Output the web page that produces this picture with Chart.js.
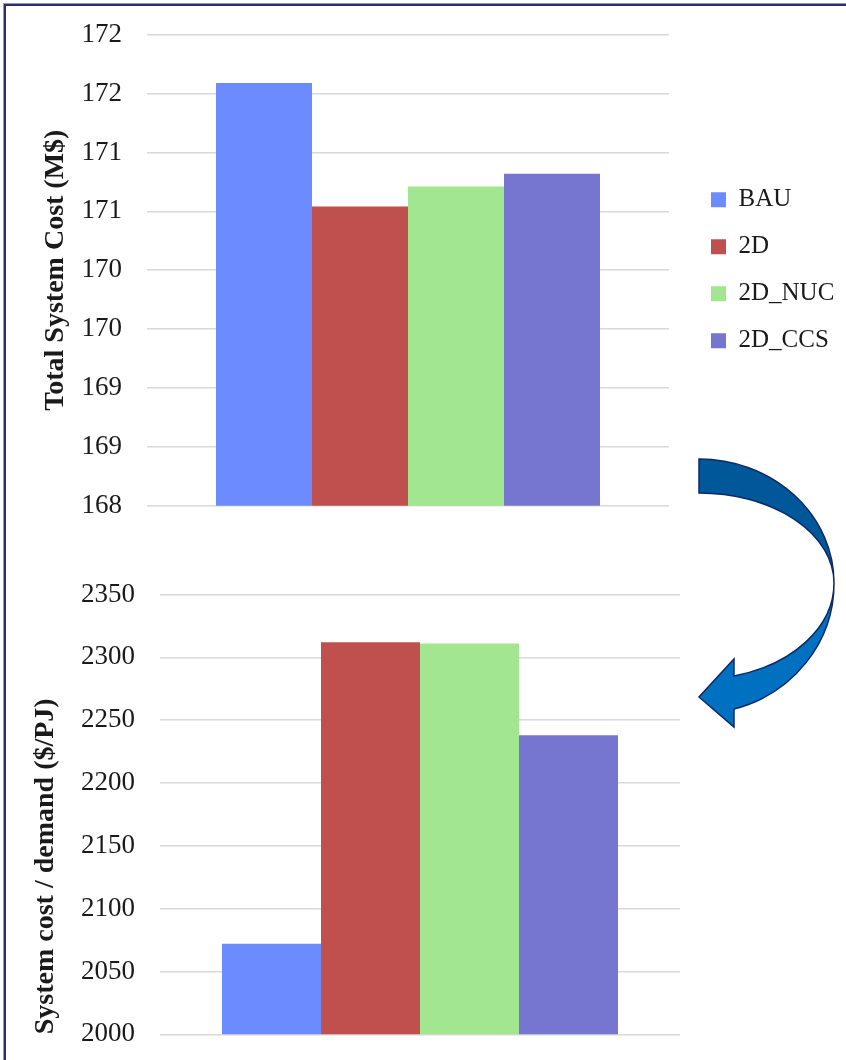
<!DOCTYPE html>
<html>
<head>
<meta charset="utf-8">
<title>System cost comparison</title>
<script src="https://cdn.jsdelivr.net/npm/chart.js@4.4.1/dist/chart.umd.min.js"></script>
<style>
  html, body { margin: 0; padding: 0; background: #fff; overflow: hidden; }
  #frame { position: relative; width: 846px; height: 1060px; overflow: hidden; }
  #border {
    position: absolute; left: 4px; top: 4px; width: 900px; height: 1100px;
    border-left: 2px solid #2d2d6b; border-top: 2px solid #2d2d6b;
    box-shadow: -1px -1px 0 #9494c4;
  }
  #costChart { position: absolute; left: 0; top: 0; }
  #demandChart { position: absolute; left: 0; top: 540px; }
  #arrow { position: absolute; left: 0; top: 0; pointer-events: none; }
</style>
</head>
<body>
<div id="frame">
  <div id="border"></div>
  <canvas id="costChart" width="846" height="540"></canvas>
  <canvas id="demandChart" width="846" height="520"></canvas>
  <svg id="arrow" width="846" height="1060" viewBox="0 0 846 1060">
    <!-- lower, lighter half of the curved arrow with its head -->
    <path d="M 834 583 A 135 130 0 0 1 734 709 L 734 727 L 699 697 L 734 659 L 734 676 A 135 96 0 0 0 834 583 Z"
          fill="#0070c0" stroke="#0d2a66" stroke-width="1.5" stroke-linejoin="miter"/>
    <!-- upper, darker half -->
    <path d="M 699 459 A 135 124 0 0 1 834 583 A 135 90 0 0 0 699 493 Z"
          fill="#00589a" stroke="#0d2a66" stroke-width="1.5"/>
  </svg>
</div>

<script>
const scenarios = ['BAU', '2D', '2D_NUC', '2D_CCS'];
const scenarioColors = ['#6b8bff', '#c0504d', '#a2e68f', '#7676d1'];
const totalCost = [171.59, 170.54, 170.71, 170.82];      // M$
const costPerDemand = [2072, 2312, 2311, 2238];          // $/PJ
const costTicks = { min: 168, max: 172, step: 0.5 };
const demandTicks = { min: 2000, max: 2350, step: 50 };

const serif = "'Liberation Serif', 'DejaVu Serif', serif";
const textColor = '#1a1a1a';
const gridColor = '#d9d9d9';

const legendFont = { family: serif, size: 25 };
const legendPadding = 22;
const legendBoxLeft = 711;   // x of the coloured squares
const costPlotRight = 669;

// width Chart.js gives a right-hand legend: padding + box + gap + text + 10
function legendWidth() {
  const ctx = document.createElement('canvas').getContext('2d');
  ctx.font = legendFont.size + 'px ' + legendFont.family;
  const textW = Math.max.apply(null, scenarios.map(function(s) { return ctx.measureText(s).width; }));
  return legendPadding + 15 + legendFont.size / 2 + textW + 10;
}

function makeDatasets(values, catPct) {
  return scenarios.map(function(name, i) {
    return {
      label: name,
      data: [values[i]],
      backgroundColor: scenarioColors[i],
      borderWidth: 0,
      categoryPercentage: catPct,
      barPercentage: 1
    };
  });
}

function yAxis(ticks, title, width, titleAlign, titleOffset, format) {
  return {
    min: ticks.min,
    max: ticks.max,
    grid: { color: gridColor, lineWidth: 1.5, drawTicks: false },
    border: { display: false },
    ticks: {
      stepSize: ticks.step,
      padding: 25,
      color: textColor,
      font: { family: serif, size: 27 },
      callback: format
    },
    title: {
      display: true,
      text: title,
      align: titleAlign,
      color: textColor,
      font: { family: serif, size: 28, weight: 'bold' },
      padding: { top: titleOffset, bottom: 0 }
    },
    afterFit: function(scale) {
      scale.width = width;
      // plot edges are set by the layout padding alone
      scale.paddingTop = 0;
      scale.paddingBottom = 0;
    }
  };
}

const legendLeft = legendBoxLeft - legendPadding;
const costLegendWidth = legendWidth();
const costPadRight = 846 - legendLeft - costLegendWidth;

// top chart: total system cost, legend on the right
new Chart(document.getElementById('costChart'), {
  type: 'bar',
  data: {
    labels: [''],
    datasets: makeDatasets(totalCost, 0.7356)
  },
  options: {
    responsive: false,
    animation: false,
    layout: { padding: { left: 0, top: 34.7, bottom: 34.3, right: costPadRight } },
    plugins: {
      legend: {
        display: true,
        position: 'right',
        maxWidth: costLegendWidth + 20,
        labels: {
          boxWidth: 15,
          boxHeight: 15,
          padding: legendPadding,
          color: textColor,
          font: legendFont
        }
      },
      tooltip: { enabled: false }
    },
    scales: {
      x: { display: false },
      y: yAxis(costTicks, 'Total System Cost (M$)', 147, 'center', 39,
               function(value) { return Math.round(value); }),
      gap: {
        position: 'right',
        display: true,
        grid: { display: false },
        border: { display: false },
        ticks: { display: false },
        afterFit: function(scale) { scale.width = legendLeft - costPlotRight; }
      }
    }
  }
});

// bottom chart: system cost per unit of demand
new Chart(document.getElementById('demandChart'), {
  type: 'bar',
  data: {
    labels: [''],
    datasets: makeDatasets(costPerDemand, 0.7615)
  },
  options: {
    responsive: false,
    animation: false,
    layout: { padding: { left: 0, top: 54.5, bottom: 25.7, right: 166 } },
    plugins: {
      legend: { display: false },
      tooltip: { enabled: false }
    },
    scales: {
      x: { display: false },
      y: yAxis(demandTicks, 'System cost / demand ($/PJ)', 160, 'start', 29,
               function(value) { return value; })
    }
  }
});
</script>
</body>
</html>
